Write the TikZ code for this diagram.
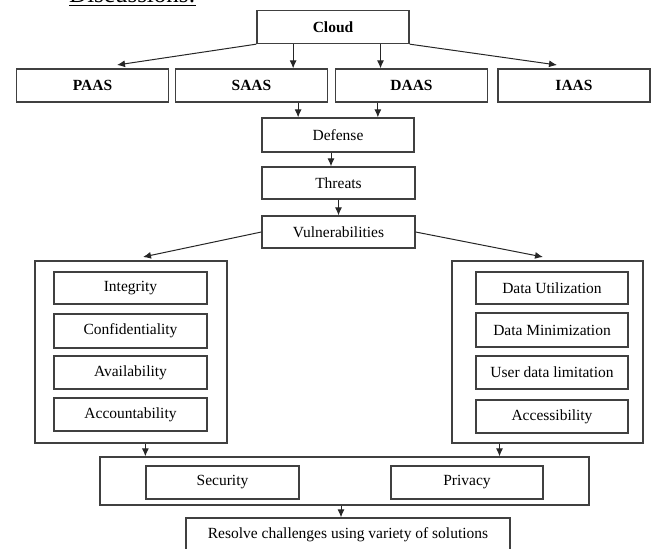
\documentclass[tikz,border=0pt]{standalone}
\usepackage{fontspec}
\setmainfont{Liberation Serif}
\usetikzlibrary{positioning,calc,arrows.meta}
\tikzset{box/.style={draw=black!75,line width=1.3pt,minimum width=152pt,minimum height=33pt,inner sep=0pt,font=\fontsize{15.5}{18}\selectfont}}
\tikzset{topbox/.style={box,font=\fontsize{15.5}{18}\selectfont\bfseries}}
\tikzset{frame/.style={draw=black!75,line width=1.3pt,inner sep=0pt}}
\tikzset{link/.style={-{Latex[length=8pt,width=7pt]},line width=1pt,draw=black!85}}

\begin{document}
\begin{tikzpicture}[x=1pt,y=-1pt]
	\path[use as bounding box] (0,0) rectangle (652,548);
	\clip (0,0) rectangle (652,548);
	%% page heading, cut at the top
	\node[anchor=base west,inner sep=0pt,font=\fontsize{25}{28}\selectfont] (heading) at (69,3) {\underline{Discussions:}};
	%% cloud and services
	\node[topbox] (cloud) at (333,27) {Cloud};
	\node[topbox] (paas) at (92.5,85.5) {PAAS};
	\node[topbox] (saas) at (251.5,85.5) {SAAS};
	\node[topbox] (daas) at (411.5,85.5) {DAAS};
	\node[topbox] (iaas) at (574,85.5) {IAAS};
	\coordinate (paasin) at (117,65);
	\coordinate (iaasin) at (557,65);
	\coordinate (cs) at ($(cloud.south west)!0.24!(cloud.south east)$);
	\coordinate (cd) at ($(cloud.south west)!0.81!(cloud.south east)$);
	\draw[link] (cloud.south west) -- (paasin);
	\draw[link] (cloud.south east) -- (iaasin);
	\draw[link] (cs) -- (cs |- saas.north);
	\draw[link] (cd) -- (cd |- daas.north);
	%% chain
	\node[box,minimum height=34pt] (defense) at (338,135) {Defense};
	\node[box,minimum width=153pt,minimum height=32pt] (threats) at (338.5,183) {Threats};
	\node[box,minimum width=153pt,minimum height=32pt] (vuln) at (338.5,232) {Vulnerabilities};
	\coordinate (ds) at ($(defense.north west)!0.24!(defense.north east)$);
	\coordinate (dd) at ($(defense.north west)!0.76!(defense.north east)$);
	\coordinate (dt) at ($(defense.south)+(-7,0)$);
	\draw[link] (ds |- saas.south) -- (ds);
	\draw[link] (dd |- daas.south) -- (dd);
	\draw[link] (dt) -- (dt |- threats.north);
	\draw[link] (threats.south) -- (vuln.north);
	%% security side
	\node[frame,minimum width=192pt,minimum height=182pt] (leftbox) at (131,352) {};
	\node[box,minimum width=153pt,minimum height=32pt] (integrity) at (130.5,288) {Integrity};
	\node[box,minimum width=153pt,minimum height=34pt] (confid) at (130.5,331) {Confidentiality};
	\node[box,minimum width=153pt] (avail) at (130.5,372.5) {Availability};
	\node[box,minimum width=153pt] (account) at (130.5,414.5) {Accountability};
	%% privacy side
	\node[frame,minimum width=191pt,minimum height=182pt] (rightbox) at (547.5,352) {};
	\node[box,minimum height=32pt] (datautil) at (552,288) {Data Utilization};
	\node[box,minimum height=34pt] (datamin) at (552,330) {Data Minimization};
	\node[box] (userdata) at (552,372.5) {User data limitation};
	\node[box] (access) at (552,416.5) {Accessibility};
	\coordinate (leftin) at (143,257);
	\coordinate (rightin) at (543,257);
	\draw[link] (vuln.west) -- (leftin);
	\draw[link] (vuln.east) -- (rightin);
	%% security and privacy
	\node[frame,minimum width=489pt,minimum height=48pt] (bottom) at (344.5,481) {};
	\node[box,minimum width=153pt] (security) at (222.5,482.5) {Security};
	\node[box] (privacy) at (467,482.5) {Privacy};
	\coordinate (rs) at ($(rightbox.south)+(-48,0)$);
	\coordinate (bs) at ($(bottom.south)+(-3.5,0)$);
	\draw[link] (leftbox.south -| security.west) -- (bottom.north -| security.west);
	\draw[link] (rs) -- (rs |- bottom.north);
	%% outcome, cut at the bottom
	\node[box,minimum width=324pt,minimum height=34pt] (resolve) at (348,535) {Resolve challenges using variety of solutions};
	\draw[link] (bs) -- (bs |- resolve.north);

\end{tikzpicture}
\end{document}
